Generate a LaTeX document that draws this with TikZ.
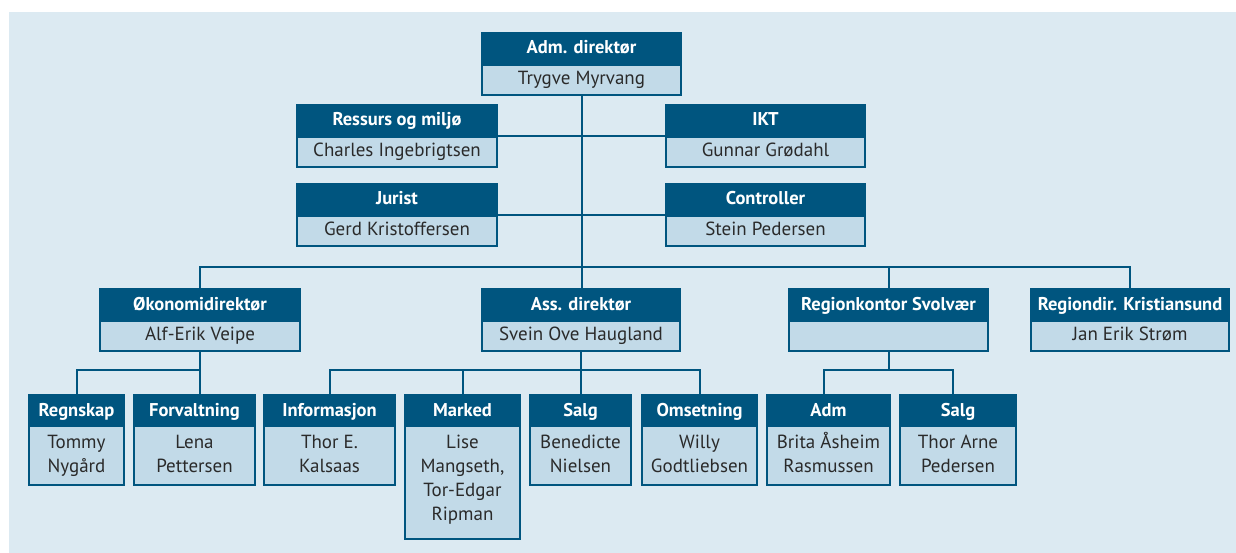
\documentclass[tikz,border=0pt]{standalone}
\usepackage{fontspec}
\setmainfont{PT Sans}
\definecolor{bg}{HTML}{DCEAF2}
\definecolor{dk}{HTML}{00557F}
\definecolor{lt}{HTML}{C2DAE8}
\definecolor{tx}{HTML}{2A2A2A}
\tikzset{
 hdr/.style={fill=dk, draw=dk, line width=2pt, inner sep=0pt, anchor=north},
 bdy/.style={fill=lt, draw=dk, line width=2pt, inner sep=0pt, anchor=north},
 htxt/.style={text=white, font=\fontsize{18.5}{22}\selectfont\bfseries, inner sep=0pt, anchor=base},
 btxt/.style={text=tx, font=\fontsize{19}{24}\selectfont, align=center, inner sep=0pt, anchor=north},
 conn/.style={draw=dk, line width=2pt},
}
\newcommand\obox[9]{%
 \node[hdr, minimum width=#4pt, minimum height=#5pt] (#1h) at (#2,#3) {};
 \node[bdy, minimum width=#4pt, minimum height=#6pt] (#1) at (#1h.south) {};
 \node[htxt] (#1ht) at ([yshift=-22pt]#1h.north) {#7};
 \node[btxt] (#1t) at ([yshift=-#9pt]#1.north) {\rule{0pt}{18pt}#8};
}
\begin{document}
\begin{tikzpicture}[x=1pt,y=-1pt]
\useasboundingbox (0,0) rectangle (1236,553);
\fill[bg] (9,12) rectangle (1236,553);
% top
\obox{adm}{581.5}{32}{199}{30}{30}{Adm. direktør}{Trygve Myrvang}{2.5}
\obox{res}{397}{104}{200}{30}{30}{Ressurs og miljø}{Charles Ingebrigtsen}{2.5}
\obox{ikt}{765.5}{104}{199}{30}{30}{IKT}{Gunnar Grødahl}{2.5}
\obox{jur}{397}{183}{200}{30}{30}{Jurist}{Gerd Kristoffersen}{2.5}
\obox{ctl}{765.5}{183}{199}{30}{30}{Controller}{Stein Pedersen}{2.5}
% row 2
\obox{oko}{200}{288}{200}{30}{30}{Økonomidirektør}{Alf-Erik Veipe}{2.5}
\obox{ass}{581}{288}{198}{30}{30}{Ass. direktør}{Svein Ove Haugland}{2.5}
\obox{svo}{888.5}{288}{199}{30}{30}{Regionkontor Svolvær}{}{2.5}
\obox{kri}{1130}{288}{198}{30}{30}{Regiondir. Kristiansund}{Jan Erik Strøm}{2.5}
% row 3
\obox{reg}{76.5}{394}{95}{29}{59}{Regnskap}{Tommy\\Nygård}{5.5}
\obox{forv}{194.5}{394}{121}{29}{59}{Forvaltning}{Lena\\Pettersen}{5.5}
\obox{info}{329.5}{394}{131}{29}{59}{Informasjon}{Thor E.\\Kalsaas}{5.5}
\obox{mark}{462.5}{394}{115}{29}{113}{Marked}{Lise\\Mangseth,\\Tor-Edgar\\Ripman}{5.5}
\obox{salg}{580.5}{394}{101}{29}{59}{Salg}{Benedicte\\Nielsen}{5.5}
\obox{oms}{699.5}{394}{115}{29}{59}{Omsetning}{Willy\\Godtliebsen}{5.5}
\obox{admr}{828.5}{394}{123}{29}{59}{Adm}{Brita Åsheim\\Rasmussen}{5.5}
\obox{salgr}{958}{394}{116}{29}{59}{Salg}{Thor Arne\\Pedersen}{5.5}
% connectors
\coordinate (b1) at (0,267);
\coordinate (b2) at (0,370);
\draw[conn] (adm.south) -- (adm.south |- assh.north);
\draw[conn] (resh.south east) -- (ikth.south west);
\draw[conn] (jurh.south east) -- (ctlh.south west);
\draw[conn] (okoh.north) -- (okoh.north |- b1) -- (krih.north |- b1) -- (krih.north);
\draw[conn] (svoh.north) -- (svoh.north |- b1);
\draw[conn] (oko.south) -- (oko.south |- forvh.north);
\draw[conn] (oko.south |- b2) -- (regh.north |- b2) -- (regh.north);
\draw[conn] (ass.south) -- (ass.south |- salgh.north);
\draw[conn] (infoh.north) -- (infoh.north |- b2) -- (omsh.north |- b2) -- (omsh.north);
\draw[conn] (markh.north) -- (markh.north |- b2);
\coordinate (ra) at ([xshift=-4.5pt]admrh.north);
\coordinate (rb) at ([xshift=-5pt]salgrh.north);
\draw[conn] (svo.south) -- (svo.south |- b2);
\draw[conn] (ra) -- (ra |- b2) -- (rb |- b2) -- (rb);
\end{tikzpicture}
\end{document}
